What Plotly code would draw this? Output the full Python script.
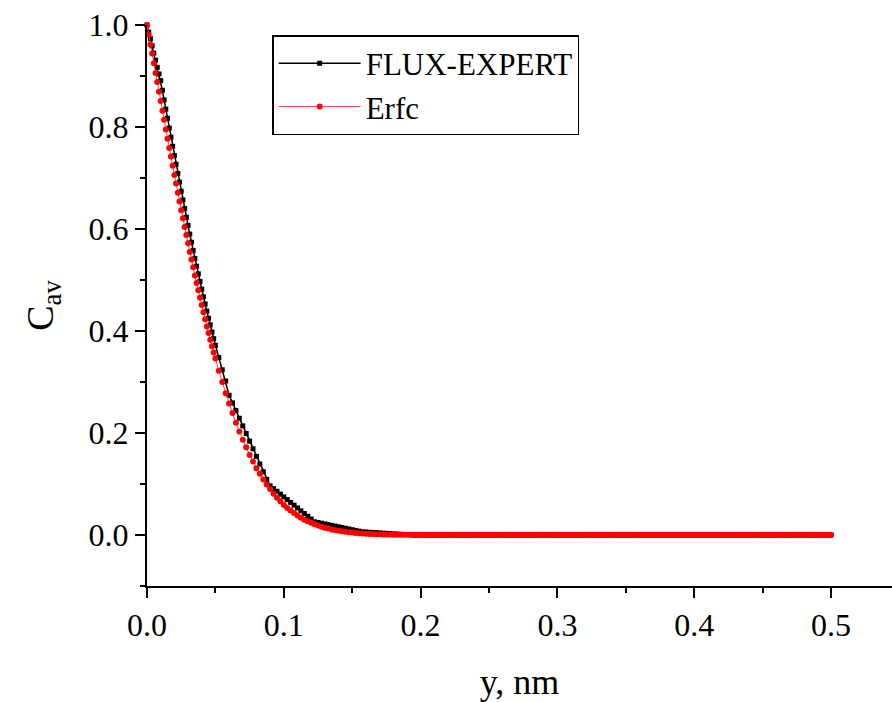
import numpy as np
import plotly.graph_objects as go

# sampling grid (nm): fine steps near the surface, coarser further in
x_fine = np.round(np.arange(41) * 0.00125, 5)               # 0 .. 0.05
x_coarse = np.round(0.05 + np.arange(1, 61) * 0.0025, 5)    # 0.0525 .. 0.2
x_tail = np.round(0.2 + np.arange(1, 121) * 0.0025, 5)      # 0.2025 .. 0.5

flux_fine = [1.000, 0.986, 0.973, 0.959, 0.945, 0.931, 0.917, 0.904, 0.891, 0.872,
             0.853, 0.835, 0.817, 0.798, 0.780, 0.762, 0.744, 0.727, 0.709, 0.692,
             0.674, 0.657, 0.640, 0.623, 0.607, 0.590, 0.574, 0.558, 0.542, 0.527,
             0.512, 0.497, 0.482, 0.467, 0.453, 0.439, 0.425, 0.412, 0.398, 0.385,
             0.372]
flux_coarse = [0.348, 0.324, 0.302, 0.274,
               0.259, 0.244, 0.229, 0.214, 0.199, 0.184, 0.169, 0.154, 0.139, 0.124, 0.109, 0.0965,
               0.0911, 0.0857, 0.0802, 0.0748, 0.0694, 0.0639, 0.0585, 0.0531, 0.0476, 0.0422,
               0.0368, 0.0313, 0.0259,
               0.0246, 0.0232, 0.0218, 0.0203, 0.0189, 0.0175, 0.0161, 0.0147, 0.0132, 0.0118,
               0.0104, 0.0090, 0.0075, 0.0063,
               0.0058, 0.0054, 0.0049, 0.0045, 0.0041, 0.0036, 0.0032, 0.0027, 0.0023, 0.0019,
               0.0014, 0.0011, 0.0008, 0.0006, 0.0004, 0.0002, 0.0001]

erfc_fine = [1.000, 0.981, 0.962, 0.944, 0.925, 0.906, 0.888, 0.869, 0.851, 0.832,
             0.814, 0.795, 0.777, 0.759, 0.742, 0.724, 0.706, 0.689, 0.671, 0.654,
             0.637, 0.621, 0.604, 0.588, 0.572, 0.555, 0.540, 0.525, 0.509, 0.494,
             0.480, 0.465, 0.451, 0.437, 0.423, 0.409, 0.396, 0.383, 0.370, 0.358,
             0.346]
erfc_coarse = [0.322, 0.300, 0.278, 0.258,
               0.239, 0.220, 0.203, 0.187, 0.172, 0.157, 0.144, 0.131, 0.120, 0.109, 0.099, 0.090,
               0.081, 0.073, 0.066, 0.059, 0.053, 0.048, 0.043, 0.038, 0.034, 0.030, 0.027, 0.024, 0.021,
               0.0186, 0.0162, 0.0143, 0.0125, 0.0109, 0.0095, 0.0083, 0.0072, 0.0062, 0.0054,
               0.0047, 0.0040, 0.0034, 0.0029,
               0.0025, 0.0021, 0.0018, 0.0016, 0.0013, 0.0011, 0.0009, 0.0008, 0.0007, 0.0006,
               0.0005, 0.0004, 0.0003, 0.0003, 0.0002, 0.0002, 0.0002]

tail_values = [
    0.0, 0.0, 0.0, 0.0, 0.0, 0.0, 0.0, 0.0, 0.0, 0.0, 0.0, 0.0, 0.0, 0.0, 0.0, 0.0, 0.0, 0.0, 0.0, 0.0,
    0.0, 0.0, 0.0, 0.0, 0.0, 0.0, 0.0, 0.0, 0.0, 0.0, 0.0, 0.0, 0.0, 0.0, 0.0, 0.0, 0.0, 0.0, 0.0, 0.0,
    0.0, 0.0, 0.0, 0.0, 0.0, 0.0, 0.0, 0.0, 0.0, 0.0, 0.0, 0.0, 0.0, 0.0, 0.0, 0.0, 0.0, 0.0, 0.0, 0.0,
    0.0, 0.0, 0.0, 0.0, 0.0, 0.0, 0.0, 0.0, 0.0, 0.0, 0.0, 0.0, 0.0, 0.0, 0.0, 0.0, 0.0, 0.0, 0.0, 0.0,
    0.0, 0.0, 0.0, 0.0, 0.0, 0.0, 0.0, 0.0, 0.0, 0.0, 0.0, 0.0, 0.0, 0.0, 0.0, 0.0, 0.0, 0.0, 0.0, 0.0,
    0.0, 0.0, 0.0, 0.0, 0.0, 0.0, 0.0, 0.0, 0.0, 0.0, 0.0, 0.0, 0.0, 0.0, 0.0, 0.0, 0.0, 0.0, 0.0, 0.0,
]

x_all = list(x_fine) + list(x_coarse) + list(x_tail)
flux_y = flux_fine + flux_coarse + tail_values
erfc_y = erfc_fine + erfc_coarse + tail_values

FONT = "Times New Roman"

fig = go.Figure()
fig.add_trace(go.Scatter(
    x=x_all, y=flux_y, mode="lines+markers", name="FLUX-EXPERT",
    line=dict(color="black", width=1.5),
    marker=dict(symbol="square", size=5, color="black"),
    cliponaxis=False,
))
fig.add_trace(go.Scatter(
    x=x_all, y=erfc_y, mode="lines+markers", name="Erfc",
    line=dict(color="#ff4040", width=1),
    marker=dict(symbol="circle", size=6, color="#ff0000"),
    cliponaxis=False,
))

axis_common = dict(
    showgrid=False, zeroline=False, showline=True, linecolor="black", linewidth=2,
    ticks="outside", ticklen=10, tickwidth=2, tickcolor="black",
    tickfont=dict(family=FONT, size=32, color="black"),
)

fig.update_layout(
    width=892, height=702,
    margin=dict(l=147, r=0, t=25, b=116),
    paper_bgcolor="white", plot_bgcolor="white",
    font=dict(family=FONT, color="black"),
    showlegend=True,
    legend=dict(
        x=0.168, y=0.982, xanchor="left", yanchor="top",
        bordercolor="black", borderwidth=1.5, bgcolor="white",
        font=dict(family=FONT, size=31, color="black"),
        itemwidth=82, tracegroupgap=0,
    ),
    xaxis=dict(
        range=[0, 0.5446], tickmode="array",
        tickvals=[0.0, 0.1, 0.2, 0.3, 0.4, 0.5],
        ticktext=["0.0", "0.1", "0.2", "0.3", "0.4", "0.5"],
        minor=dict(dtick=0.05, tick0=0, ticks="outside", ticklen=5, tickwidth=2, tickcolor="black"),
        title=dict(text="y, nm", font=dict(family=FONT, size=36, color="black"), standoff=28),
        **axis_common,
    ),
    yaxis=dict(
        range=[-0.1, 1.0], tickmode="array",
        tickvals=[0.0, 0.2, 0.4, 0.6, 0.8, 1.0],
        ticktext=["0.0", "0.2", "0.4", "0.6", "0.8", "1.0"],
        minor=dict(dtick=0.1, tick0=-0.1, ticks="outside", ticklen=5, tickwidth=2, tickcolor="black"),
        title=dict(text="C<sub>av</sub>", font=dict(family=FONT, size=38, color="black"), standoff=23),
        **axis_common,
    ),
)

fig.write_html("out.html")
